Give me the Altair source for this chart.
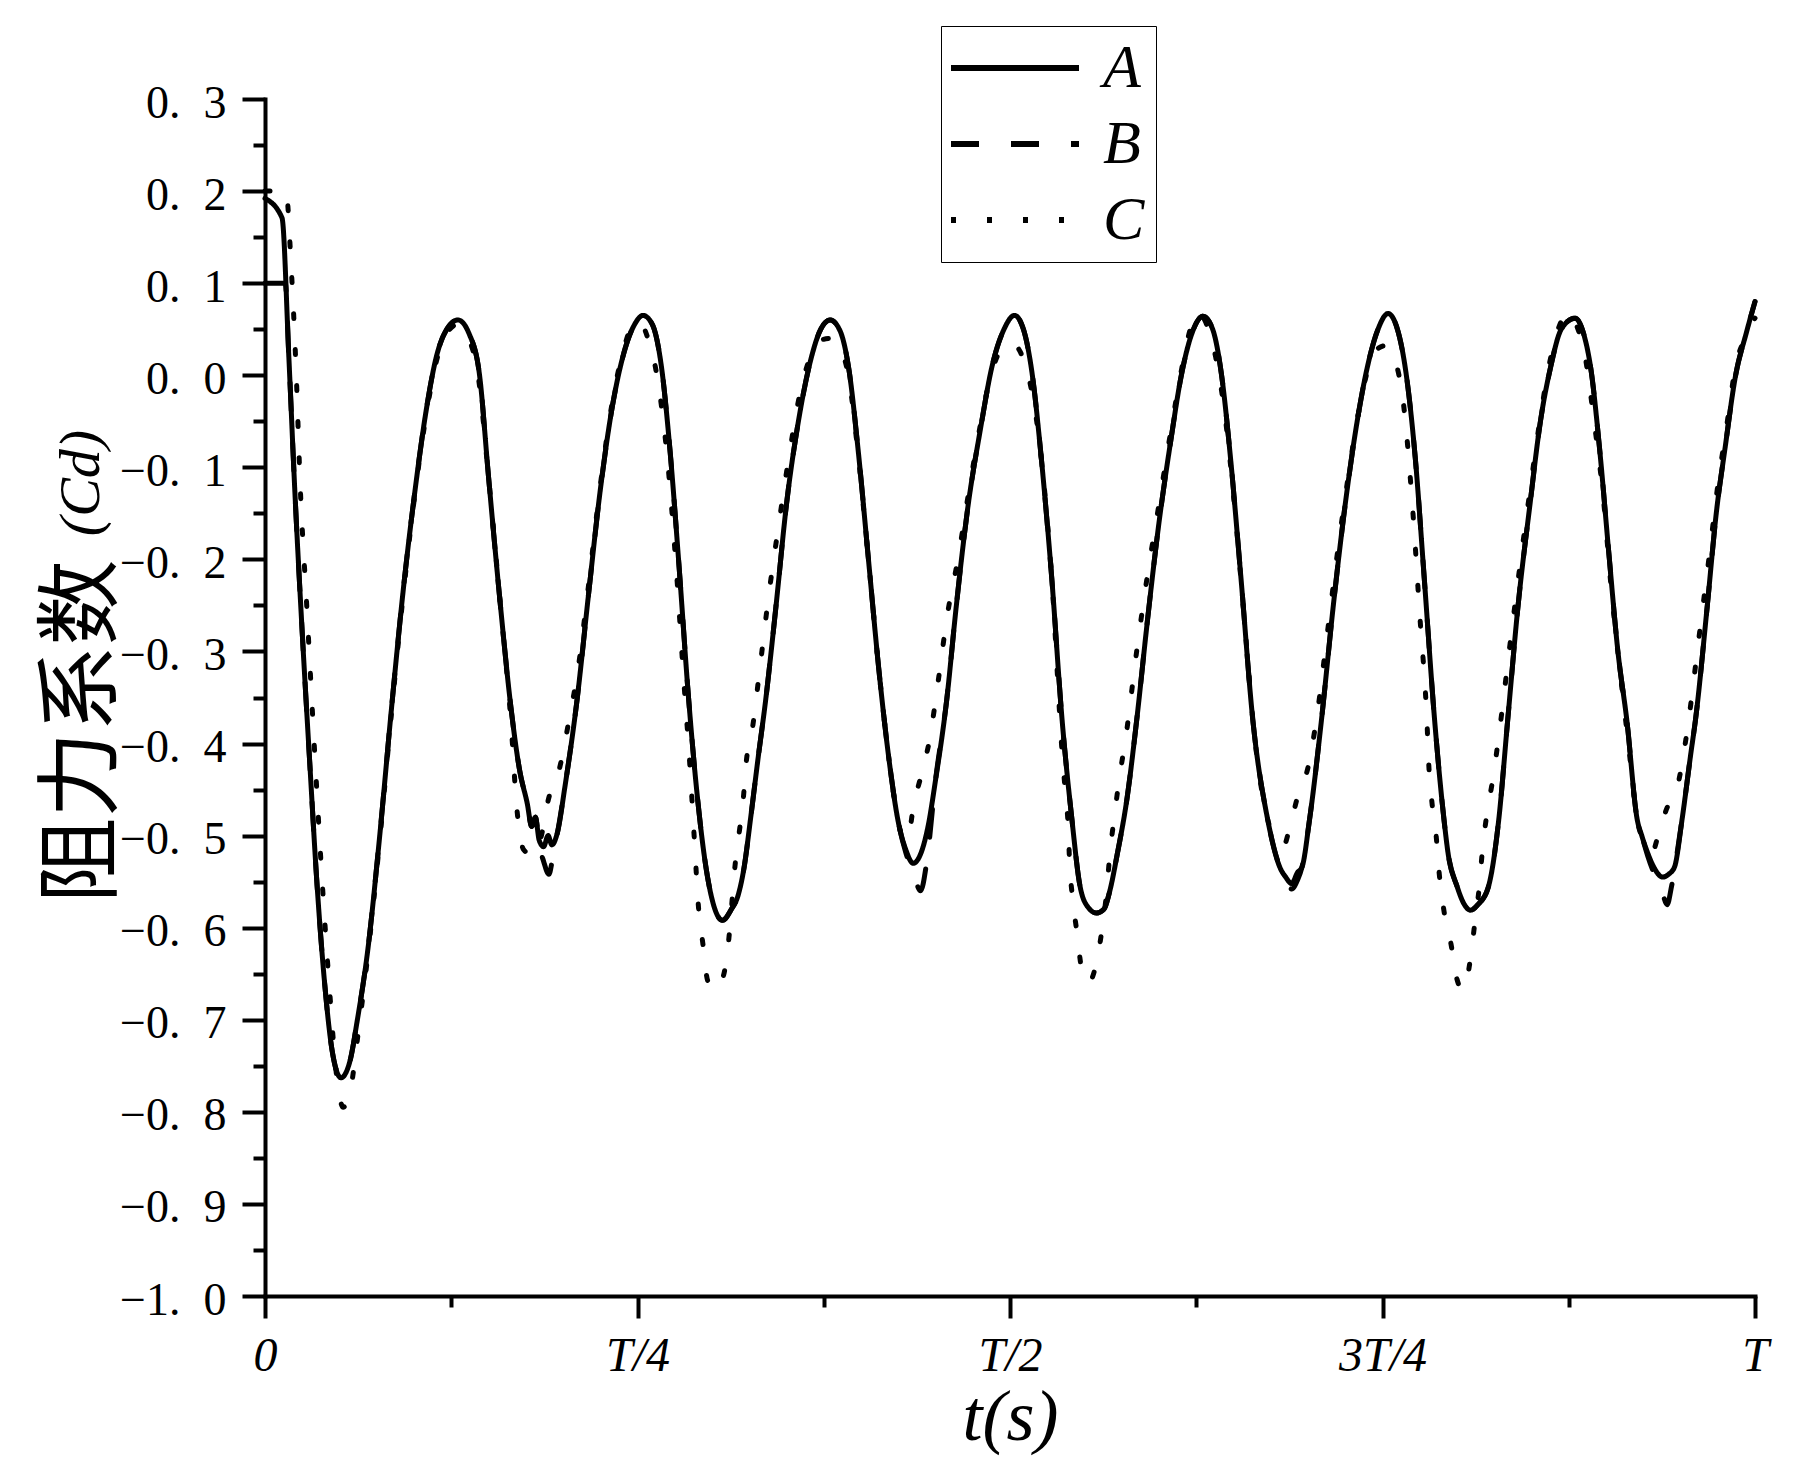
import altair as alt
import pandas as pd

SERIF = "Liberation Serif"
CJK = "Noto Sans CJK SC"

SERIES = ["A", "B", "C"]
X_MAJOR = [0, 0.25, 0.5, 0.75, 1]
X_MAJOR_LABELS = ["0", "T/4", "T/2", "3T/4", "T"]
X_MINOR = [0.125, 0.375, 0.625, 0.875]
Y_MAJOR = [-1.0, -0.9, -0.8, -0.7, -0.6, -0.5, -0.4, -0.3, -0.2, -0.1, 0.0, 0.1, 0.2, 0.3]
Y_MINOR = [-0.95, -0.85, -0.75, -0.65, -0.55, -0.45, -0.35, -0.25, -0.15, -0.05, 0.05, 0.15, 0.25]

# Series A (solid)
A_T = [0.0000, 0.0114, 0.0160, 0.0200, 0.0250, 0.0300, 0.0350, 0.0400, 0.0450, 0.0510,
       0.0570, 0.0620, 0.0690, 0.0770, 0.0850, 0.0930, 0.1007, 0.1080, 0.1150, 0.1220, 0.1295,
       0.1370, 0.1440, 0.1500, 0.1580, 0.1650, 0.1710, 0.1760, 0.1790, 0.1815, 0.1840, 0.1870,
       0.1900, 0.1925, 0.1965, 0.2010, 0.2094, 0.2170, 0.2250, 0.2330, 0.2410, 0.2480, 0.2537,
       0.2600, 0.2660, 0.2720, 0.2780, 0.2840, 0.2900, 0.2960, 0.3010, 0.3070,
       0.3130, 0.3175, 0.3215, 0.3260, 0.3310, 0.3360, 0.3430, 0.3500, 0.3580, 0.3660, 0.3730, 0.3793,
       0.3860, 0.3920, 0.3980, 0.4050, 0.4120, 0.4190, 0.4250, 0.4300, 0.4350,
       0.4400, 0.4450, 0.4500, 0.4575, 0.4640, 0.4720, 0.4800, 0.4880, 0.4960, 0.5030,
       0.5090, 0.5150, 0.5210, 0.5280, 0.5350, 0.5416, 0.5470, 0.5525, 0.5580,
       0.5630, 0.5670, 0.5720, 0.5785, 0.5850, 0.5920, 0.6000, 0.6080, 0.6150, 0.6220, 0.6295,
       0.6360, 0.6420, 0.6480, 0.6550, 0.6630, 0.6730, 0.6810, 0.6850, 0.6890, 0.6930, 0.6960,
       0.7010, 0.7090, 0.7170, 0.7250, 0.7330, 0.7400, 0.7470, 0.7537,
       0.7600, 0.7660, 0.7720, 0.7780, 0.7850, 0.7913, 0.7940, 0.8000, 0.8050, 0.8090, 0.8140,
       0.8210, 0.8280, 0.8340, 0.8410, 0.8490, 0.8560, 0.8630, 0.8700, 0.8792,
       0.8850, 0.8900, 0.8960, 0.9020, 0.9080, 0.9140, 0.9210, 0.9240, 0.9280, 0.9320, 0.9380,
       0.9420, 0.9460, 0.9510, 0.9570, 0.9600, 0.9680, 0.9740, 0.9800, 0.9870, 0.9940, 1.0000]
A_V = [0.192, 0.171, 0.020, -0.125, -0.280, -0.420, -0.555, -0.660, -0.733, -0.763,
       -0.745, -0.700, -0.624, -0.500, -0.360, -0.230, -0.125, -0.040, 0.020, 0.050, 0.060,
       0.045, 0.000, -0.110, -0.250, -0.360, -0.430, -0.465, -0.490, -0.480, -0.505, -0.512,
       -0.500, -0.510, -0.495, -0.450, -0.353, -0.240, -0.125, -0.035, 0.025, 0.055, 0.065,
       0.055, 0.010, -0.085, -0.210, -0.345, -0.455, -0.535, -0.575, -0.592,
       -0.580, -0.565, -0.535, -0.480, -0.415, -0.353, -0.250, -0.140, -0.050, 0.015, 0.050, 0.060,
       0.048, 0.005, -0.080, -0.200, -0.320, -0.420, -0.485, -0.515, -0.530,
       -0.520, -0.490, -0.440, -0.353, -0.250, -0.140, -0.060, 0.010, 0.050, 0.065,
       0.050, 0.000, -0.090, -0.220, -0.375, -0.483, -0.555, -0.578, -0.584,
       -0.580, -0.560, -0.520, -0.460, -0.375, -0.270, -0.160, -0.070, 0.000, 0.045, 0.064,
       0.050, 0.000, -0.090, -0.220, -0.375, -0.483, -0.534, -0.545, -0.552, -0.540, -0.534,
       -0.483, -0.375, -0.250, -0.140, -0.050, 0.010, 0.050, 0.067,
       0.050, 0.000, -0.090, -0.220, -0.375, -0.483, -0.519, -0.555, -0.575, -0.581, -0.575,
       -0.556, -0.483, -0.375, -0.250, -0.140, -0.050, 0.010, 0.050, 0.062,
       0.045, 0.005, -0.085, -0.195, -0.300, -0.375, -0.483, -0.500, -0.519, -0.534, -0.545,
       -0.542, -0.534, -0.483, -0.410, -0.375, -0.250, -0.150, -0.078, 0.000, 0.045, 0.080]

# Series B (dashed)
B_T = [0.0000, 0.0136, 0.0160, 0.0200, 0.0250, 0.0300, 0.0350, 0.0400, 0.0450, 0.0510,
       0.0570, 0.0620, 0.0690, 0.0770, 0.0850, 0.0930, 0.1007, 0.1080, 0.1150, 0.1220, 0.1295,
       0.1370, 0.1440, 0.1500, 0.1580, 0.1650, 0.1710, 0.1760, 0.1790, 0.1815, 0.1840, 0.1870,
       0.1905, 0.1935, 0.1965, 0.2010, 0.2094, 0.2170, 0.2250, 0.2330, 0.2410, 0.2480, 0.2537,
       0.2600, 0.2660, 0.2720, 0.2780, 0.2840, 0.2900, 0.2960, 0.3010, 0.3070,
       0.3130, 0.3175, 0.3215, 0.3260, 0.3310, 0.3360, 0.3430, 0.3500, 0.3580, 0.3660, 0.3730, 0.3793,
       0.3860, 0.3920, 0.3980, 0.4050, 0.4120, 0.4190, 0.4250, 0.4300, 0.4350,
       0.4400, 0.4440, 0.4500, 0.4575, 0.4640, 0.4720, 0.4800, 0.4880, 0.4960, 0.5030,
       0.5090, 0.5150, 0.5210, 0.5280, 0.5350, 0.5416, 0.5470, 0.5525, 0.5580,
       0.5630, 0.5670, 0.5720, 0.5785, 0.5850, 0.5920, 0.6000, 0.6080, 0.6150, 0.6220, 0.6295,
       0.6360, 0.6420, 0.6480, 0.6550, 0.6630, 0.6730, 0.6810, 0.6850, 0.6890, 0.6930, 0.6960,
       0.7010, 0.7090, 0.7170, 0.7250, 0.7330, 0.7400, 0.7470, 0.7537,
       0.7600, 0.7660, 0.7720, 0.7780, 0.7850, 0.7913, 0.7940, 0.8000, 0.8050, 0.8090, 0.8140,
       0.8210, 0.8280, 0.8340, 0.8410, 0.8490, 0.8560, 0.8630, 0.8700, 0.8792,
       0.8850, 0.8900, 0.8960, 0.9020, 0.9080, 0.9140, 0.9210, 0.9240, 0.9280, 0.9320, 0.9370,
       0.9410, 0.9440, 0.9490, 0.9510, 0.9570, 0.9600, 0.9680, 0.9740, 0.9800, 0.9870, 0.9940, 1.0000]
B_V = [0.100, 0.100, 0.020, -0.125, -0.280, -0.420, -0.555, -0.660, -0.733, -0.763,
       -0.745, -0.700, -0.624, -0.500, -0.360, -0.230, -0.125, -0.040, 0.020, 0.050, 0.060,
       0.045, 0.000, -0.110, -0.250, -0.360, -0.430, -0.465, -0.490, -0.480, -0.510, -0.528,
       -0.542, -0.520, -0.495, -0.450, -0.353, -0.240, -0.125, -0.035, 0.025, 0.055, 0.065,
       0.055, 0.010, -0.085, -0.210, -0.345, -0.455, -0.535, -0.575, -0.592,
       -0.580, -0.565, -0.535, -0.480, -0.415, -0.353, -0.250, -0.140, -0.050, 0.015, 0.050, 0.060,
       0.048, 0.005, -0.080, -0.200, -0.320, -0.420, -0.485, -0.518, -0.540,
       -0.560, -0.530, -0.440, -0.353, -0.250, -0.140, -0.060, 0.010, 0.050, 0.065,
       0.050, 0.000, -0.090, -0.220, -0.375, -0.483, -0.555, -0.578, -0.584,
       -0.580, -0.560, -0.520, -0.460, -0.375, -0.270, -0.160, -0.070, 0.000, 0.045, 0.064,
       0.050, 0.000, -0.090, -0.220, -0.375, -0.483, -0.534, -0.548, -0.558, -0.548, -0.534,
       -0.483, -0.375, -0.250, -0.140, -0.050, 0.010, 0.050, 0.067,
       0.050, 0.000, -0.090, -0.220, -0.375, -0.483, -0.519, -0.555, -0.575, -0.581, -0.575,
       -0.556, -0.483, -0.375, -0.250, -0.140, -0.050, 0.010, 0.050, 0.062,
       0.045, 0.005, -0.085, -0.195, -0.300, -0.375, -0.483, -0.500, -0.522, -0.540, -0.557,
       -0.575, -0.555, -0.505, -0.483, -0.410, -0.375, -0.250, -0.150, -0.078, 0.000, 0.045, 0.080]

# Series C (dotted)
C_T = [0.0000, 0.0141, 0.0175, 0.0210, 0.0235, 0.0280, 0.0330, 0.0380, 0.0430, 0.0480, 0.0525,
       0.0575, 0.0625, 0.0690, 0.0770, 0.0850, 0.0930, 0.1007, 0.1080, 0.1150, 0.1220, 0.1290,
       0.1360, 0.1430, 0.1500, 0.1580, 0.1650, 0.1690, 0.1735, 0.1800, 0.1855, 0.1900, 0.1975,
       0.2040, 0.2100, 0.2170, 0.2250, 0.2330, 0.2410, 0.2470, 0.2510,
       0.2570, 0.2630, 0.2700, 0.2760, 0.2810, 0.2850, 0.2880, 0.2910, 0.2940, 0.2970, 0.3020,
       0.3070, 0.3110, 0.3130, 0.3150, 0.3180, 0.3210, 0.3230, 0.3270, 0.3320, 0.3380, 0.3450,
       0.3520, 0.3590, 0.3660, 0.3730, 0.3790,
       0.3860, 0.3920, 0.3980, 0.4050, 0.4120, 0.4190, 0.4250, 0.4290, 0.4320, 0.4350, 0.4415,
       0.4460, 0.4520, 0.4580, 0.4650, 0.4720, 0.4800, 0.4880, 0.4950, 0.5010,
       0.5070, 0.5130, 0.5210, 0.5280, 0.5350, 0.5370, 0.5390, 0.5400, 0.5420, 0.5450, 0.5480,
       0.5525, 0.5580, 0.5620, 0.5650, 0.5670, 0.5700, 0.5730, 0.5780, 0.5850, 0.5920, 0.6000,
       0.6080, 0.6150, 0.6210, 0.6260,
       0.6320, 0.6380, 0.6440, 0.6500, 0.6570, 0.6640, 0.6730, 0.6800, 0.6840, 0.6870, 0.6930,
       0.7000, 0.7060, 0.7130, 0.7200, 0.7270, 0.7340, 0.7400, 0.7460, 0.7520,
       0.7580, 0.7640, 0.7700, 0.7750, 0.7800, 0.7810, 0.7830, 0.7860, 0.7880, 0.7910, 0.7960,
       0.8000, 0.8040, 0.8090, 0.8120, 0.8150, 0.8170, 0.8200, 0.8240, 0.8290, 0.8350, 0.8420,
       0.8490, 0.8560, 0.8630, 0.8690, 0.8745,
       0.8800, 0.8860, 0.8920, 0.8980, 0.9040, 0.9100, 0.9150, 0.9210, 0.9260, 0.9310, 0.9350,
       0.9400, 0.9490, 0.9550, 0.9620, 0.9690, 0.9750, 0.9810, 0.9870, 0.9940, 1.0000]
C_V = [0.200, 0.200, 0.120, 0.000, -0.115, -0.250, -0.400, -0.540, -0.660, -0.760, -0.795,
       -0.775, -0.715, -0.630, -0.505, -0.365, -0.235, -0.128, -0.045, 0.015, 0.045, 0.055,
       0.042, 0.000, -0.110, -0.250, -0.375, -0.470, -0.515, -0.522, -0.500, -0.462, -0.428,
       -0.375, -0.320, -0.230, -0.120, -0.030, 0.030, 0.055, 0.058,
       0.040, 0.000, -0.090, -0.210, -0.330, -0.420, -0.500, -0.579, -0.619, -0.657, -0.668,
       -0.656, -0.617, -0.580, -0.540, -0.500, -0.460, -0.420, -0.385, -0.320, -0.240, -0.160,
       -0.085, -0.020, 0.020, 0.038, 0.040,
       0.030, -0.005, -0.085, -0.200, -0.320, -0.420, -0.485, -0.505, -0.500, -0.470, -0.428,
       -0.396, -0.330, -0.260, -0.200, -0.130, -0.055, 0.005, 0.030, 0.035,
       0.025, -0.005, -0.090, -0.220, -0.410, -0.450, -0.489, -0.529, -0.568, -0.606, -0.644,
       -0.660, -0.638, -0.599, -0.559, -0.520, -0.480, -0.442, -0.390, -0.300, -0.220, -0.140,
       -0.060, 0.005, 0.050, 0.068,
       0.055, 0.020, -0.040, -0.130, -0.260, -0.390, -0.483, -0.505, -0.510, -0.496, -0.458,
       -0.426, -0.370, -0.280, -0.190, -0.110, -0.040, 0.005, 0.028, 0.032,
       0.018, -0.030, -0.140, -0.260, -0.382, -0.421, -0.461, -0.500, -0.540, -0.579, -0.618,
       -0.656, -0.668, -0.634, -0.594, -0.555, -0.517, -0.477, -0.439, -0.380, -0.300, -0.210,
       -0.125, -0.045, 0.020, 0.055, 0.068,
       0.055, 0.020, -0.050, -0.130, -0.240, -0.330, -0.400, -0.483, -0.508, -0.518, -0.500,
       -0.474, -0.439, -0.380, -0.290, -0.200, -0.120, -0.055, 0.010, 0.042, 0.062]

rows = []
for name, ts, vs in (("A", A_T, A_V), ("B", B_T, B_V), ("C", C_T, C_V)):
    assert len(ts) == len(vs), (name, len(ts), len(vs))
    for t, v in zip(ts, vs):
        rows.append({"t": t, "cd": v, "series": name})
df = pd.DataFrame(rows)

x_label_expr = " : ".join(
    f"datum.value == {v} ? '{lab}'" for v, lab in zip(X_MAJOR, X_MAJOR_LABELS)
) + " : ''"
y_label_expr = "replace(format(datum.value, '.1f'), '.', '.\u2002')"

x_scale = alt.Scale(domain=[0, 1], nice=False, zero=False)
y_scale = alt.Scale(domain=[-1.0, 0.3], nice=False, zero=False)

x_axis = alt.Axis(
    values=X_MAJOR, labelExpr=x_label_expr, grid=False,
    domainColor="black", domainWidth=4, domainCap="square",
    tickColor="black", tickWidth=4, tickSize=22,
    labelFont=SERIF, labelFontStyle="italic", labelFontSize=48, labelColor="black",
    labelBaseline="alphabetic", labelPadding=52, labelFlush=False, labelOverlap=False,
    title="t(s)", titleFont=SERIF, titleFontStyle="italic", titleFontSize=72,
    titleFontWeight="normal", titleColor="black", titleBaseline="alphabetic", titleY=143,
)
y_axis = alt.Axis(
    values=Y_MAJOR, labelExpr=y_label_expr, grid=False,
    domainColor="black", domainWidth=4, domainCap="square",
    tickColor="black", tickWidth=4, tickSize=23,
    labelFont=SERIF, labelFontSize=46, labelColor="black",
    labelBaseline="middle", labelPadding=16, labelOffset=4,
    labelFlush=False, labelOverlap=False,
    title="阻力系数", titleFont=CJK, titleFontSize=86, titleFontWeight="normal",
    titleColor="black", titleAngle=270, titleBaseline="bottom", titleAlign="center",
    titleX=-138, titleY=632,
)
x_minor_axis = alt.Axis(values=X_MINOR, labels=False, domain=False, grid=False,
                        tickColor="black", tickWidth=4, tickSize=11, title=None, orient="bottom")
y_minor_axis = alt.Axis(values=Y_MINOR, labels=False, domain=False, grid=False,
                        tickColor="black", tickWidth=4, tickSize=12, title=None, orient="left")

legend = alt.Legend(
    title=None, orient="none", legendX=676, legendY=-73, direction="vertical",
    symbolType="M-2,0H6", symbolSize=1024, symbolStrokeWidth=6, symbolStrokeColor="black",
    labelFont=SERIF, labelFontStyle="italic", labelFontSize=62, labelColor="black",
    labelOffset=89, rowPadding=14, padding=11,
    strokeColor="black", fillColor="white", cornerRadius=0,
)

lines = alt.Chart(df).mark_line(
    color="black", strokeWidth=5, strokeCap="round", strokeJoin="round", interpolate="monotone"
).encode(
    x=alt.X("t:Q", scale=x_scale, axis=x_axis),
    y=alt.Y("cd:Q", scale=y_scale, axis=y_axis),
    strokeDash=alt.StrokeDash(
        "series:N",
        scale=alt.Scale(domain=SERIES, range=[[1, 0], [28, 32], [5, 31]]),
        legend=legend,
    ),
)

minor = alt.Chart(df).mark_line(opacity=0).encode(
    x=alt.X("t:Q", scale=x_scale, axis=x_minor_axis),
    y=alt.Y("cd:Q", scale=y_scale, axis=y_minor_axis),
    detail="series:N",
)

cd_label = alt.Chart(pd.DataFrame({"label": ["(Cd)"]})).mark_text(
    angle=270, font=SERIF, fontStyle="italic", fontSize=58,
    baseline="alphabetic", align="center", color="black",
).encode(text="label:N", x=alt.value(-166), y=alt.value(384))

chart = alt.layer(lines, minor, cd_label).resolve_axis(
    x="independent", y="independent"
).properties(
    width=1490, height=1197,
    autosize=alt.AutoSizeParams(type="none"),
    padding={"left": 257, "top": 91, "right": 40, "bottom": 165},
    background="white",
).configure_view(strokeWidth=0)

chart.save("out.html", embed_options={"renderer": "svg", "actions": False})
